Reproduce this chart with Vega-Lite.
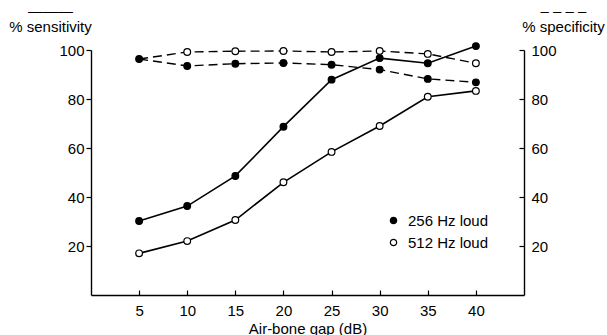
{
  "$schema": "https://vega.github.io/schema/vega-lite/v6.json",
  "width": 433,
  "height": 245,
  "autosize": "none",
  "padding": {"left": 91, "top": 50, "right": 83, "bottom": 40},
  "background": "white",
  "config": {
    "view": {"stroke": null},
    "font": "Liberation Sans",
    "axis": {
      "grid": false,
      "domainColor": "black",
      "domainWidth": 1.4,
      "tickColor": "black",
      "tickWidth": 1.2,
      "labelColor": "black",
      "labelFontSize": 15,
      "labelFont": "Liberation Sans",
      "titleColor": "black",
      "titleFontSize": 15,
      "titleFont": "Liberation Sans",
      "titleFontWeight": "normal"
    }
  },
  "data": {
    "values": [
      {"gap": 5, "value": 30.2, "freq": "256 Hz loud", "measure": "sensitivity"},
      {"gap": 10, "value": 36.3, "freq": "256 Hz loud", "measure": "sensitivity"},
      {"gap": 15, "value": 48.6, "freq": "256 Hz loud", "measure": "sensitivity"},
      {"gap": 20, "value": 68.7, "freq": "256 Hz loud", "measure": "sensitivity"},
      {"gap": 25, "value": 87.9, "freq": "256 Hz loud", "measure": "sensitivity"},
      {"gap": 30, "value": 96.7, "freq": "256 Hz loud", "measure": "sensitivity"},
      {"gap": 35, "value": 94.6, "freq": "256 Hz loud", "measure": "sensitivity"},
      {"gap": 40, "value": 101.6, "freq": "256 Hz loud", "measure": "sensitivity"},
      {"gap": 5, "value": 17.0, "freq": "512 Hz loud", "measure": "sensitivity"},
      {"gap": 10, "value": 22.0, "freq": "512 Hz loud", "measure": "sensitivity"},
      {"gap": 15, "value": 30.6, "freq": "512 Hz loud", "measure": "sensitivity"},
      {"gap": 20, "value": 46.0, "freq": "512 Hz loud", "measure": "sensitivity"},
      {"gap": 25, "value": 58.4, "freq": "512 Hz loud", "measure": "sensitivity"},
      {"gap": 30, "value": 69.0, "freq": "512 Hz loud", "measure": "sensitivity"},
      {"gap": 35, "value": 80.9, "freq": "512 Hz loud", "measure": "sensitivity"},
      {"gap": 40, "value": 83.3, "freq": "512 Hz loud", "measure": "sensitivity"},
      {"gap": 5, "value": 96.3, "freq": "512 Hz loud", "measure": "specificity"},
      {"gap": 10, "value": 99.2, "freq": "512 Hz loud", "measure": "specificity"},
      {"gap": 15, "value": 99.5, "freq": "512 Hz loud", "measure": "specificity"},
      {"gap": 20, "value": 99.6, "freq": "512 Hz loud", "measure": "specificity"},
      {"gap": 25, "value": 99.2, "freq": "512 Hz loud", "measure": "specificity"},
      {"gap": 30, "value": 99.6, "freq": "512 Hz loud", "measure": "specificity"},
      {"gap": 35, "value": 98.4, "freq": "512 Hz loud", "measure": "specificity"},
      {"gap": 40, "value": 94.6, "freq": "512 Hz loud", "measure": "specificity"},
      {"gap": 5, "value": 96.3, "freq": "256 Hz loud", "measure": "specificity"},
      {"gap": 10, "value": 93.5, "freq": "256 Hz loud", "measure": "specificity"},
      {"gap": 15, "value": 94.4, "freq": "256 Hz loud", "measure": "specificity"},
      {"gap": 20, "value": 94.7, "freq": "256 Hz loud", "measure": "specificity"},
      {"gap": 25, "value": 94.0, "freq": "256 Hz loud", "measure": "specificity"},
      {"gap": 30, "value": 92.0, "freq": "256 Hz loud", "measure": "specificity"},
      {"gap": 35, "value": 88.2, "freq": "256 Hz loud", "measure": "specificity"},
      {"gap": 40, "value": 86.8, "freq": "256 Hz loud", "measure": "specificity"}
    ]
  },
  "layer": [
    {
      "transform": [{"filter": "datum.measure === 'sensitivity'"}],
      "encoding": {
        "x": {
          "field": "gap", "type": "quantitative",
          "scale": {"domain": [0, 45], "nice": false, "zero": false},
          "axis": {
            "values": [5, 10, 15, 20, 25, 30, 35, 40],
            "tickSize": -5,
            "labelPadding": 13,
            "title": "Air-bone gap (dB)",
            "titlePadding": 3
          }
        },
        "y": {
          "field": "value", "type": "quantitative",
          "scale": {"domain": [0, 100], "nice": false},
          "axis": {
            "orient": "left",
            "values": [20, 40, 60, 80, 100],
            "tickSize": 5,
            "labelPadding": 2,
            "title": ["———", "% sensitivity"],
            "titleAngle": 0,
            "titleAlign": "center",
            "titleBaseline": "alphabetic",
            "titleLineHeight": 16,
            "titleX": -41,
            "titleY": -35
          }
        }
      },
      "layer": [
        {
          "mark": {"type": "line", "color": "black", "strokeWidth": 1.6},
          "encoding": {"detail": {"field": "freq"}}
        },
        {
          "mark": {"type": "point", "shape": "circle", "filled": true, "size": 45, "stroke": "black", "strokeWidth": 1.2, "opacity": 1},
          "encoding": {
            "fill": {
              "field": "freq", "type": "nominal",
              "scale": {"domain": ["256 Hz loud", "512 Hz loud"], "range": ["black", "white"]},
              "legend": {
                "orient": "none",
                "legendX": 295,
                "legendY": 163,
                "title": null,
                "symbolType": "circle",
                "symbolSize": 40,
                "symbolStrokeColor": "black",
                "symbolStrokeWidth": 1.2,
                "labelFontSize": 15,
                "labelFont": "Liberation Sans",
                "labelColor": "black",
                "labelOffset": 7,
                "rowPadding": 6
              }
            }
          }
        }
      ]
    },
    {
      "transform": [{"filter": "datum.measure === 'specificity'"}],
      "encoding": {
        "x": {
          "field": "gap", "type": "quantitative",
          "scale": {"domain": [0, 45], "nice": false, "zero": false},
          "axis": {
            "values": [5, 10, 15, 20, 25, 30, 35, 40],
            "tickSize": -5,
            "labelPadding": 13,
            "title": "Air-bone gap (dB)",
            "titlePadding": 3
          }
        },
        "y": {
          "field": "value", "type": "quantitative",
          "scale": {"domain": [0, 100], "nice": false},
          "axis": {
            "orient": "right",
            "values": [20, 40, 60, 80, 100],
            "tickSize": -5,
            "labelPadding": 12,
            "title": ["– – – –", "% specificity"],
            "titleAngle": 0,
            "titleAlign": "center",
            "titleBaseline": "alphabetic",
            "titleLineHeight": 16,
            "titleX": 39,
            "titleY": -35
          }
        }
      },
      "layer": [
        {
          "mark": {"type": "line", "color": "black", "strokeWidth": 1.4, "strokeDash": [9, 5]},
          "encoding": {"detail": {"field": "freq"}}
        },
        {
          "transform": [{"filter": "!(datum.freq === '512 Hz loud' && datum.gap === 5)"}],
          "mark": {"type": "point", "shape": "circle", "filled": true, "size": 45, "stroke": "black", "strokeWidth": 1.2, "opacity": 1},
          "encoding": {
            "fill": {"field": "freq", "type": "nominal"}
          }
        }
      ]
    }
  ],
  "resolve": {"scale": {"y": "independent"}}
}
